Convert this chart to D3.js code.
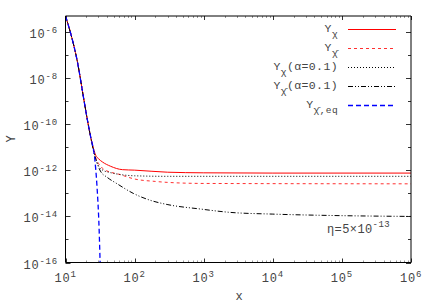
<!DOCTYPE html>
<html><head><meta charset="utf-8">
<script src="https://cdn.jsdelivr.net/npm/d3@7"></script>
<style>
html,body{margin:0;padding:0;background:#fff;}
svg{display:block;}
text{font-family:"Liberation Mono","DejaVu Sans Mono",monospace;fill:#444;}
</style></head>
<body>
<svg id="chart" width="436" height="305"></svg>
<script>
// ---- data ----
const xTicks = [1e1, 1e2, 1e3, 1e4, 1e5, 1e6];
const xTickExp = ["1", "2", "3", "4", "5", "6"];
const yTicks = [1e-16, 1e-14, 1e-12, 1e-10, 1e-8, 1e-6];
const yTickExp = ["-16", "-14", "-12", "-10", "-8", "-6"];

const xEq = [10, 12, 14.9, 18, 21, 23.2, 26.5, 28.4, 30.7, 31.7, 32.5];
const yEq = [5.0e-6, 7.9e-7, 5.0e-8, 1.8e-9, 1.26e-10, 2.7e-11, 3.2e-12, 2.6e-13, 2.5e-15, 1.0e-16, 1.0e-17];

const xChi = [10, 12, 14.9, 18, 21, 23.2, 25.4, 27.4, 30, 34.3, 45, 66.7, 100, 300, 1000, 1e4, 1e6];
const yChi = [5.0e-6, 7.9e-7, 5.0e-8, 1.8e-9, 1.26e-10, 2.7e-11, 8.9e-12, 4.5e-12, 3.2e-12, 2.3e-12, 1.5e-12, 1.07e-12, 1.02e-12, 8.3e-13, 7.8e-13, 7.6e-13, 7.6e-13];

const xChiBar = [10, 12, 14.9, 18, 21, 23.2, 25.4, 27.4, 30, 34, 45, 56, 100, 200, 300, 1000, 1e6];
const yChiBar = [5.0e-6, 7.9e-7, 5.0e-8, 1.8e-9, 1.26e-10, 2.7e-11, 7.9e-12, 3.5e-12, 2.0e-12, 1.26e-12, 8.3e-13, 7.1e-13, 4.2e-13, 3.3e-13, 3.0e-13, 2.7e-13, 2.6e-13];

const xChiA = [10, 12, 14.9, 18, 21, 23.2, 25.4, 27.4, 30.7, 34, 45, 56, 100, 300, 1e6];
const yChiA = [5.0e-6, 7.9e-7, 5.0e-8, 1.8e-9, 1.26e-10, 2.7e-11, 7.9e-12, 3.2e-12, 1.4e-12, 1.05e-12, 7.9e-13, 6.9e-13, 5.8e-13, 5.5e-13, 5.5e-13];

const xChiBarA = [10, 12, 14.9, 18, 21, 23.2, 25.4, 28, 32, 40, 56, 97, 169, 295, 890, 2400, 1e4, 6.8e4, 1e6];
const yChiBarA = [5.0e-6, 7.9e-7, 5.0e-8, 1.8e-9, 1.26e-10, 2.7e-11, 7.1e-12, 2.5e-12, 9.3e-13, 5.0e-13, 2.6e-13, 9.8e-14, 5.0e-14, 3.3e-14, 2.1e-14, 1.5e-14, 1.26e-14, 1.1e-14, 1.0e-14];

const seriesNames = ["χ", "χ̄", "χ", "χ̄", "χ̄,eq"];
const seriesSuffix = ["", "", "(α=0.1)", "(α=0.1)", ""];

// ---- layout ----
const L = 65.5, R = 411, T = 16, B = 262.5;
const svg = d3.select("#chart");
const x = d3.scaleLog().domain([10, 1e6]).range([L, R]);
const y = d3.scaleLog().domain([1e-16, 5e-6]).range([B, T]);

svg.append("clipPath").attr("id", "clip").append("rect")
  .attr("x", L).attr("y", T).attr("width", R - L).attr("height", B - T);

// ticks (inward, mirrored)
const tickG = svg.append("g").attr("stroke", "#333").attr("stroke-width", 1);
const xMinor = [];
for (let d = 1; d <= 5; d++) for (let m = 2; m <= 9; m++) xMinor.push(m * Math.pow(10, d));
xMinor.forEach(v => {
  const px = Math.round(x(v)) + 0.5;
  tickG.append("line").attr("x1", px).attr("x2", px).attr("y1", B).attr("y2", B - 2).attr("stroke", "#999");
  tickG.append("line").attr("x1", px).attr("x2", px).attr("y1", T).attr("y2", T + 2).attr("stroke", "#999");
});
xTicks.forEach(v => {
  const px = Math.round(x(v)) + 0.5;
  tickG.append("line").attr("x1", px).attr("x2", px).attr("y1", B).attr("y2", B - 4);
  tickG.append("line").attr("x1", px).attr("x2", px).attr("y1", T).attr("y2", T + 4);
});
const yAll = d3.range(-16, -5).map(e => Math.pow(10, e));
yAll.forEach((v, i) => {
  const py = Math.round(y(v)) + 0.5;
  const len = (i % 2 === 0) ? 5 : 3;
  tickG.append("line").attr("x1", L).attr("x2", L + len).attr("y1", py).attr("y2", py);
  tickG.append("line").attr("x1", R).attr("x2", R - len).attr("y1", py).attr("y2", py);
});

// lines
const line = d3.line().x(d => x(d[0])).y(d => y(d[1])).curve(d3.curveMonotoneX);
const plotG = svg.append("g").attr("clip-path", "url(#clip)").attr("fill", "none");
const series = [
  {xs: xChi, ys: yChi, color: "#ff0000", dash: null, w: 1},
  {xs: xChiBar, ys: yChiBar, color: "#ff3030", dash: "3,3", w: 1},
  {xs: xChiA, ys: yChiA, color: "#000", dash: "1,2", w: 1},
  {xs: xChiBarA, ys: yChiBarA, color: "#000", dash: "5,2,1,2,1,2", w: 1},
  {xs: xEq, ys: yEq, color: "#0000ff", dash: "5,3", w: 1.3}
];
series.forEach(s => {
  const data = s.xs.map((v, i) => [v, s.ys[i]]);
  const p = plotG.append("path").datum(data).attr("d", line)
    .attr("stroke", s.color).attr("stroke-width", s.w);
  if (s.dash) p.attr("stroke-dasharray", s.dash);
});

// frame
svg.append("line").attr("x1", L).attr("x2", L).attr("y1", T).attr("y2", B).attr("stroke", "#000");
svg.append("line").attr("x1", L).attr("x2", R).attr("y1", B).attr("y2", B).attr("stroke", "#000");
svg.append("line").attr("x1", L).attr("x2", R).attr("y1", T).attr("y2", T).attr("stroke", "#000");
svg.append("line").attr("x1", R).attr("x2", R).attr("y1", T).attr("y2", B).attr("stroke", "#000");

// tick labels
xTicks.forEach((v, i) => {
  const t = svg.append("text").attr("x", x(v)).attr("y", 282).attr("text-anchor", "middle")
    .attr("font-size", 12).attr("letter-spacing", 0.8);
  t.append("tspan").text("10");
  t.append("tspan").attr("dy", -5).attr("font-size", 9).text(xTickExp[i]);
});
yTicks.forEach((v, i) => {
  const t = svg.append("text").attr("x", 58).attr("y", y(v) + 6).attr("text-anchor", "end")
    .attr("font-size", 12).attr("letter-spacing", 0.8);
  t.append("tspan").text("10");
  t.append("tspan").attr("dy", -5).attr("font-size", 9).text(yTickExp[i]);
});

// axis titles
svg.append("text").attr("x", 239).attr("y", 300).attr("text-anchor", "middle").attr("font-size", 12).text("x");
svg.append("text").attr("transform", "translate(15,139) rotate(-90)").attr("text-anchor", "middle").attr("font-size", 12).text("Y");

// legend
const legY0 = 29, legDy = 19;
series.forEach((s, i) => {
  const yy = legY0 + i * legDy;
  const t = svg.append("text").attr("x", 338).attr("y", yy + 3).attr("text-anchor", "end")
    .attr("font-size", 11.5).attr("letter-spacing", 0.4);
  t.append("tspan").text("Y");
  t.append("tspan").attr("dy", 5).attr("font-size", 9.5).text(seriesNames[i]);
  if (seriesSuffix[i]) t.append("tspan").attr("dy", -5).attr("font-size", 11.5).text(seriesSuffix[i]);
  const l = svg.append("line").attr("x1", 348).attr("x2", 396).attr("y1", yy + 0.5).attr("y2", yy + 0.5)
    .attr("stroke", s.color).attr("stroke-width", s.w);
  if (s.dash) l.attr("stroke-dasharray", s.dash);
});

// annotation
const ann = svg.append("text").attr("x", 327).attr("y", 233).attr("font-size", 12).attr("letter-spacing", 0.4);
ann.append("tspan").text("η=5×10");
ann.append("tspan").attr("dy", -6).attr("font-size", 9).text("-13");
</script>
</body></html>
